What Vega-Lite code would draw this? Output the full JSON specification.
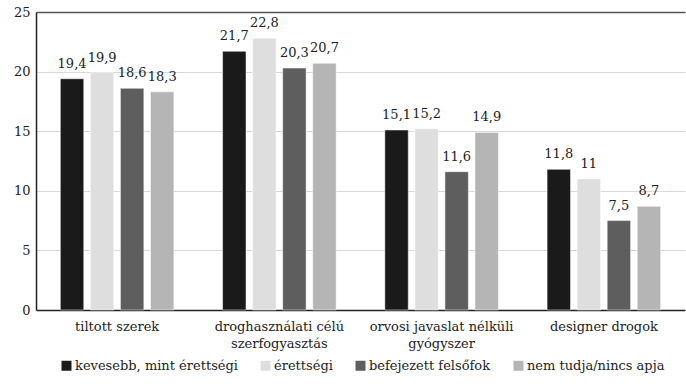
{
  "$schema": "https://vega.github.io/schema/vega-lite/v6.json",
  "width": 649,
  "height": 298,
  "autosize": {"type": "none"},
  "padding": {"left": 36, "top": 12, "right": 1, "bottom": 82},
  "config": {
    "font": "DejaVu Serif",
    "view": {"stroke": null},
    "locale": {"number": {"decimal": ",", "thousands": " ", "grouping": [3], "currency": ["", ""]}}
  },
  "data": {
    "values": [
      {"kategoria": "tiltott szerek", "csoport": "kevesebb, mint érettségi", "ertek": 19.4},
      {"kategoria": "tiltott szerek", "csoport": "érettségi", "ertek": 19.9},
      {"kategoria": "tiltott szerek", "csoport": "befejezett felsőfok", "ertek": 18.6},
      {"kategoria": "tiltott szerek", "csoport": "nem tudja/nincs apja", "ertek": 18.3},
      {"kategoria": "droghasználati célú szerfogyasztás", "csoport": "kevesebb, mint érettségi", "ertek": 21.7},
      {"kategoria": "droghasználati célú szerfogyasztás", "csoport": "érettségi", "ertek": 22.8},
      {"kategoria": "droghasználati célú szerfogyasztás", "csoport": "befejezett felsőfok", "ertek": 20.3},
      {"kategoria": "droghasználati célú szerfogyasztás", "csoport": "nem tudja/nincs apja", "ertek": 20.7},
      {"kategoria": "orvosi javaslat nélküli gyógyszer", "csoport": "kevesebb, mint érettségi", "ertek": 15.1},
      {"kategoria": "orvosi javaslat nélküli gyógyszer", "csoport": "érettségi", "ertek": 15.2},
      {"kategoria": "orvosi javaslat nélküli gyógyszer", "csoport": "befejezett felsőfok", "ertek": 11.6},
      {"kategoria": "orvosi javaslat nélküli gyógyszer", "csoport": "nem tudja/nincs apja", "ertek": 14.9},
      {"kategoria": "designer drogok", "csoport": "kevesebb, mint érettségi", "ertek": 11.8},
      {"kategoria": "designer drogok", "csoport": "érettségi", "ertek": 11},
      {"kategoria": "designer drogok", "csoport": "befejezett felsőfok", "ertek": 7.5},
      {"kategoria": "designer drogok", "csoport": "nem tudja/nincs apja", "ertek": 8.7}
    ]
  },
  "encoding": {
    "x": {
      "field": "kategoria", "type": "nominal", "sort": null,
      "scale": {"paddingInner": 0.3, "paddingOuter": 0.15},
      "axis": {
        "title": null, "labelAngle": 0, "ticks": false, "domainColor": "#222", "domainWidth": 1.5,
        "labelFont": "DejaVu Serif", "labelFontSize": 13, "labelColor": "#222", "labelPadding": 10, "labelLineHeight": 17,
        "labelExpr": "datum.label == 'droghasználati célú szerfogyasztás' ? ['droghasználati célú', 'szerfogyasztás'] : datum.label == 'orvosi javaslat nélküli gyógyszer' ? ['orvosi javaslat nélküli', 'gyógyszer'] : datum.label"
      }
    },
    "xOffset": {
      "field": "csoport", "type": "nominal", "sort": null,
      "scale": {"paddingInner": 0.22}
    },
    "y": {
      "field": "ertek", "type": "quantitative",
      "scale": {"domain": [0, 25]},
      "axis": {
        "title": null, "values": [0, 5, 10, 15, 20, 25], "ticks": false, "domainColor": "#222", "domainWidth": 1.5,
        "labelFont": "DejaVu Serif", "labelFontSize": 13, "labelColor": "#222", "labelPadding": 6,
        "gridColor": {"condition": {"test": "datum.value === 25", "value": "#555555"}, "value": "#d9d9d9"},
        "gridWidth": {"condition": {"test": "datum.value === 25", "value": 1.5}, "value": 1}
      }
    }
  },
  "layer": [
    {
      "mark": {"type": "bar", "stroke": "#ffffff", "strokeWidth": 0.5},
      "encoding": {
        "color": {
          "field": "csoport", "type": "nominal", "sort": null,
          "scale": {
            "domain": ["kevesebb, mint érettségi", "érettségi", "befejezett felsőfok", "nem tudja/nincs apja"],
            "range": ["#1a1a1a", "#dedede", "#5e5e5e", "#b5b5b5"]
          },
          "legend": {
            "orient": "none", "legendX": 24, "legendY": 347, "direction": "horizontal", "title": null,
            "symbolType": "square", "symbolSize": 100, "symbolStrokeWidth": 0,
            "labelFont": "DejaVu Serif", "labelFontSize": 13, "labelColor": "#222", "labelLimit": 0,
            "columnPadding": 21, "labelOffset": 2
          }
        }
      }
    },
    {
      "mark": {"type": "text", "baseline": "bottom", "dy": -8, "fontSize": 13, "font": "DejaVu Serif", "color": "#222"},
      "encoding": {
        "text": {"field": "ertek", "type": "quantitative", "format": ".3~g"}
      }
    }
  ]
}
